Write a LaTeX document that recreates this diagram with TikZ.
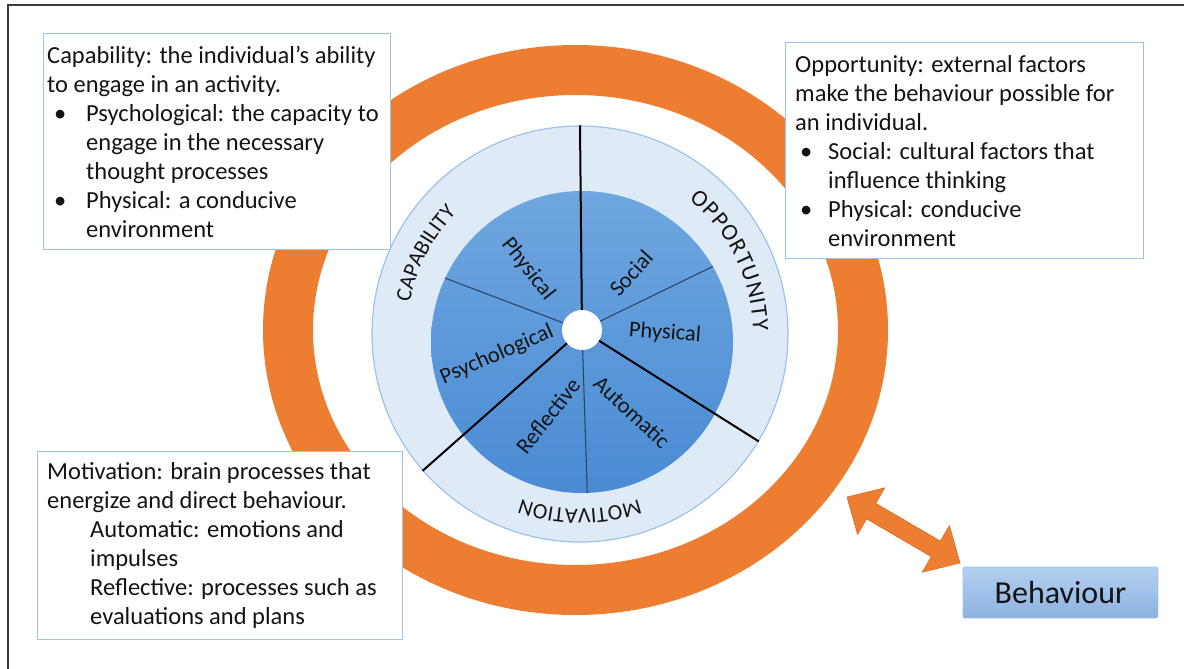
\documentclass[tikz,border=0pt]{standalone}
\usepackage{fontspec}
\setmainfont{Carlito}
\usetikzlibrary{calc,decorations.text}
\definecolor{ringorange}{HTML}{ED7D31}
\definecolor{ringedge}{HTML}{D86D28}
\definecolor{boxedge}{HTML}{9DC3E6}
\definecolor{lightring}{HTML}{DEEBF7}
\definecolor{lightedge}{HTML}{9DC3E6}
\definecolor{darktop}{HTML}{6FA6DF}
\definecolor{darkbot}{HTML}{4A8BD4}
\definecolor{txt}{HTML}{141414}
\definecolor{divgray}{HTML}{2B4766}
\definecolor{behtop}{HTML}{B4D0EF}
\definecolor{behbot}{HTML}{8CB2E1}
\definecolor{behedge}{HTML}{A3C2E8}
\definecolor{framecol}{HTML}{3A3A3A}
\newcommand{\bitem}[2]{\makebox[#2][l]{\hspace{#1}•}}
\tikzset{
  infobox/.style={draw=boxedge, line width=1.2pt, fill=white, inner sep=0pt, anchor=north west},
  boxtext/.style={anchor=west, align=left, inner sep=0pt, text=txt, font=\fontsize{24.5pt}{29pt}\selectfont},
  seclabel/.style={text=txt, inner sep=0pt, font=\fontsize{22.5pt}{26pt}\selectfont},
  thickdiv/.style={line width=2pt, black},
  thindiv/.style={line width=1.1pt, divgray},
  behbox/.style={rounded corners=2pt, draw=behedge, line width=0.8pt, top color=behtop, bottom color=behbot, text=txt, inner sep=0pt, minimum width=195pt, minimum height=51pt, font=\fontsize{32pt}{36pt}\selectfont},
  ringtext/.style n args={3}{decorate, decoration={text along path, text color=txt, text align=#1, text={|\fontsize{#2}{26pt}\selectfont|#3}}}
}
\begin{document}
\begin{tikzpicture}[x=1pt,y=-1pt]
\useasboundingbox (0,0) rectangle (1184,669);
\fill[white] (0,0) rectangle (1184,669);
\draw[framecol, line width=1.5pt] (8,669) -- (8,5) -- (1184,5);

% orange ring
\coordinate (rc) at (575.5,330);
\fill[ringorange, even odd rule] (rc) ellipse [x radius=312.5pt, y radius=285pt] (rc) ellipse [x radius=262.5pt, y radius=235pt];

% circles
\node[circle, minimum size=416pt, inner sep=0pt, fill=lightring, draw=lightedge, line width=1.2pt] (lc) at (580,334) {};
\node[circle, minimum size=302pt, inner sep=0pt, top color=darktop, bottom color=darkbot] (dc) at (582,342) {};
\coordinate (hc) at (582,330);

% dividers
\draw[thickdiv] (lc.north) -- (hc);
\draw[thickdiv] (hc) -- (lc.-31.5);
\draw[thickdiv] (hc) -- (lc.221);
\draw[thindiv] (hc) -- (dc.-88);
\draw[thindiv] (hc) -- (dc.30);
\draw[thindiv] (hc) -- (dc.155);
\node[circle, fill=white, minimum size=40pt, inner sep=0pt] (hole) at (hc) {};

% sector labels
\node[seclabel, rotate=-52] (lphys) at (528,269) {Physical};
\node[seclabel, rotate=48] (lsoc) at (631,273) {Social};
\node[seclabel, rotate=-4] (rphys) at (665,333) {Physical};
\node[seclabel, rotate=23.5] (lpsy) at (497,355) {Psychological};
\node[seclabel, rotate=52] (lref) at (548,416) {Reflective};
\node[seclabel, rotate=-43] (laut) at (632,412) {Automatic};

% curved ring labels
\begin{scope}[shift={(lc.center)}, y=1pt]
  \path[ringtext={center}{22pt}{CAPABILITY}] (175:173pt) arc[start angle=175, end angle=130, radius=173pt];
  \path[ringtext={fit to path}{23.5pt}{OPPORTUNITY}] (51:173pt) arc[start angle=51, end angle=1, radius=173pt];
  \path[ringtext={center}{22pt}{MOTIVATION}] (-60:175pt) arc[start angle=-60, end angle=-120, radius=175pt];
\end{scope}

% info boxes
\node[infobox, minimum width=347pt, minimum height=216pt] (capbox) at (43,33) {};
\node[boxtext] (captext) at ($(capbox.west)+(4,0)$) {Capability: the individual’s ability\\
to engage in an activity.\\
\bitem{7pt}{39pt}Psychological: the capacity to\\
\hspace*{39pt}engage in the necessary\\
\hspace*{39pt}thought processes\\
\bitem{7pt}{39pt}Physical: a conducive\\
\hspace*{39pt}environment};

\node[infobox, minimum width=358pt, minimum height=216pt] (oppbox) at (785,42) {};
\node[boxtext] (opptext) at ($(oppbox.west)+(10,0)$) {Opportunity: external factors\\
make the behaviour possible for\\
an individual.\\
\bitem{5pt}{33pt}Social: cultural factors that\\
\hspace*{33pt}influence thinking\\
\bitem{5pt}{33pt}Physical: conducive\\
\hspace*{33pt}environment};

\node[infobox, minimum width=365pt, minimum height=188pt] (motbox) at (37,451) {};
\node[boxtext] (mottext) at ($(motbox.west)+(10,0)$) {Motivation: brain processes that\\
energize and direct behaviour.\\
\hspace*{43pt}Automatic: emotions and\\
\hspace*{43pt}impulses\\
\hspace*{43pt}Reflective: processes such as\\
\hspace*{43pt}evaluations and plans};

% behaviour box
\node[behbox] (beh) at (1060.5,592.5) {Behaviour};

% double block arrow
\coordinate (arrA) at (847,497);
\coordinate (arrB) at (960,563);
\coordinate (h1) at ($(arrA)!28pt!(arrB)$);
\coordinate (h2) at ($(arrB)!28pt!(arrA)$);
\filldraw[fill=ringorange, draw=ringedge, line width=0.6pt, line join=miter]
  (arrA) -- ($(h1)!27pt!90:(arrB)$) -- ($(h1)!9pt!90:(arrB)$)
  -- ($(h2)!9pt!-90:(arrA)$) -- ($(h2)!27pt!-90:(arrA)$) -- (arrB)
  -- ($(h2)!27pt!90:(arrA)$) -- ($(h2)!9pt!90:(arrA)$)
  -- ($(h1)!9pt!-90:(arrB)$) -- ($(h1)!27pt!-90:(arrB)$) -- cycle;
\end{tikzpicture}
\end{document}
